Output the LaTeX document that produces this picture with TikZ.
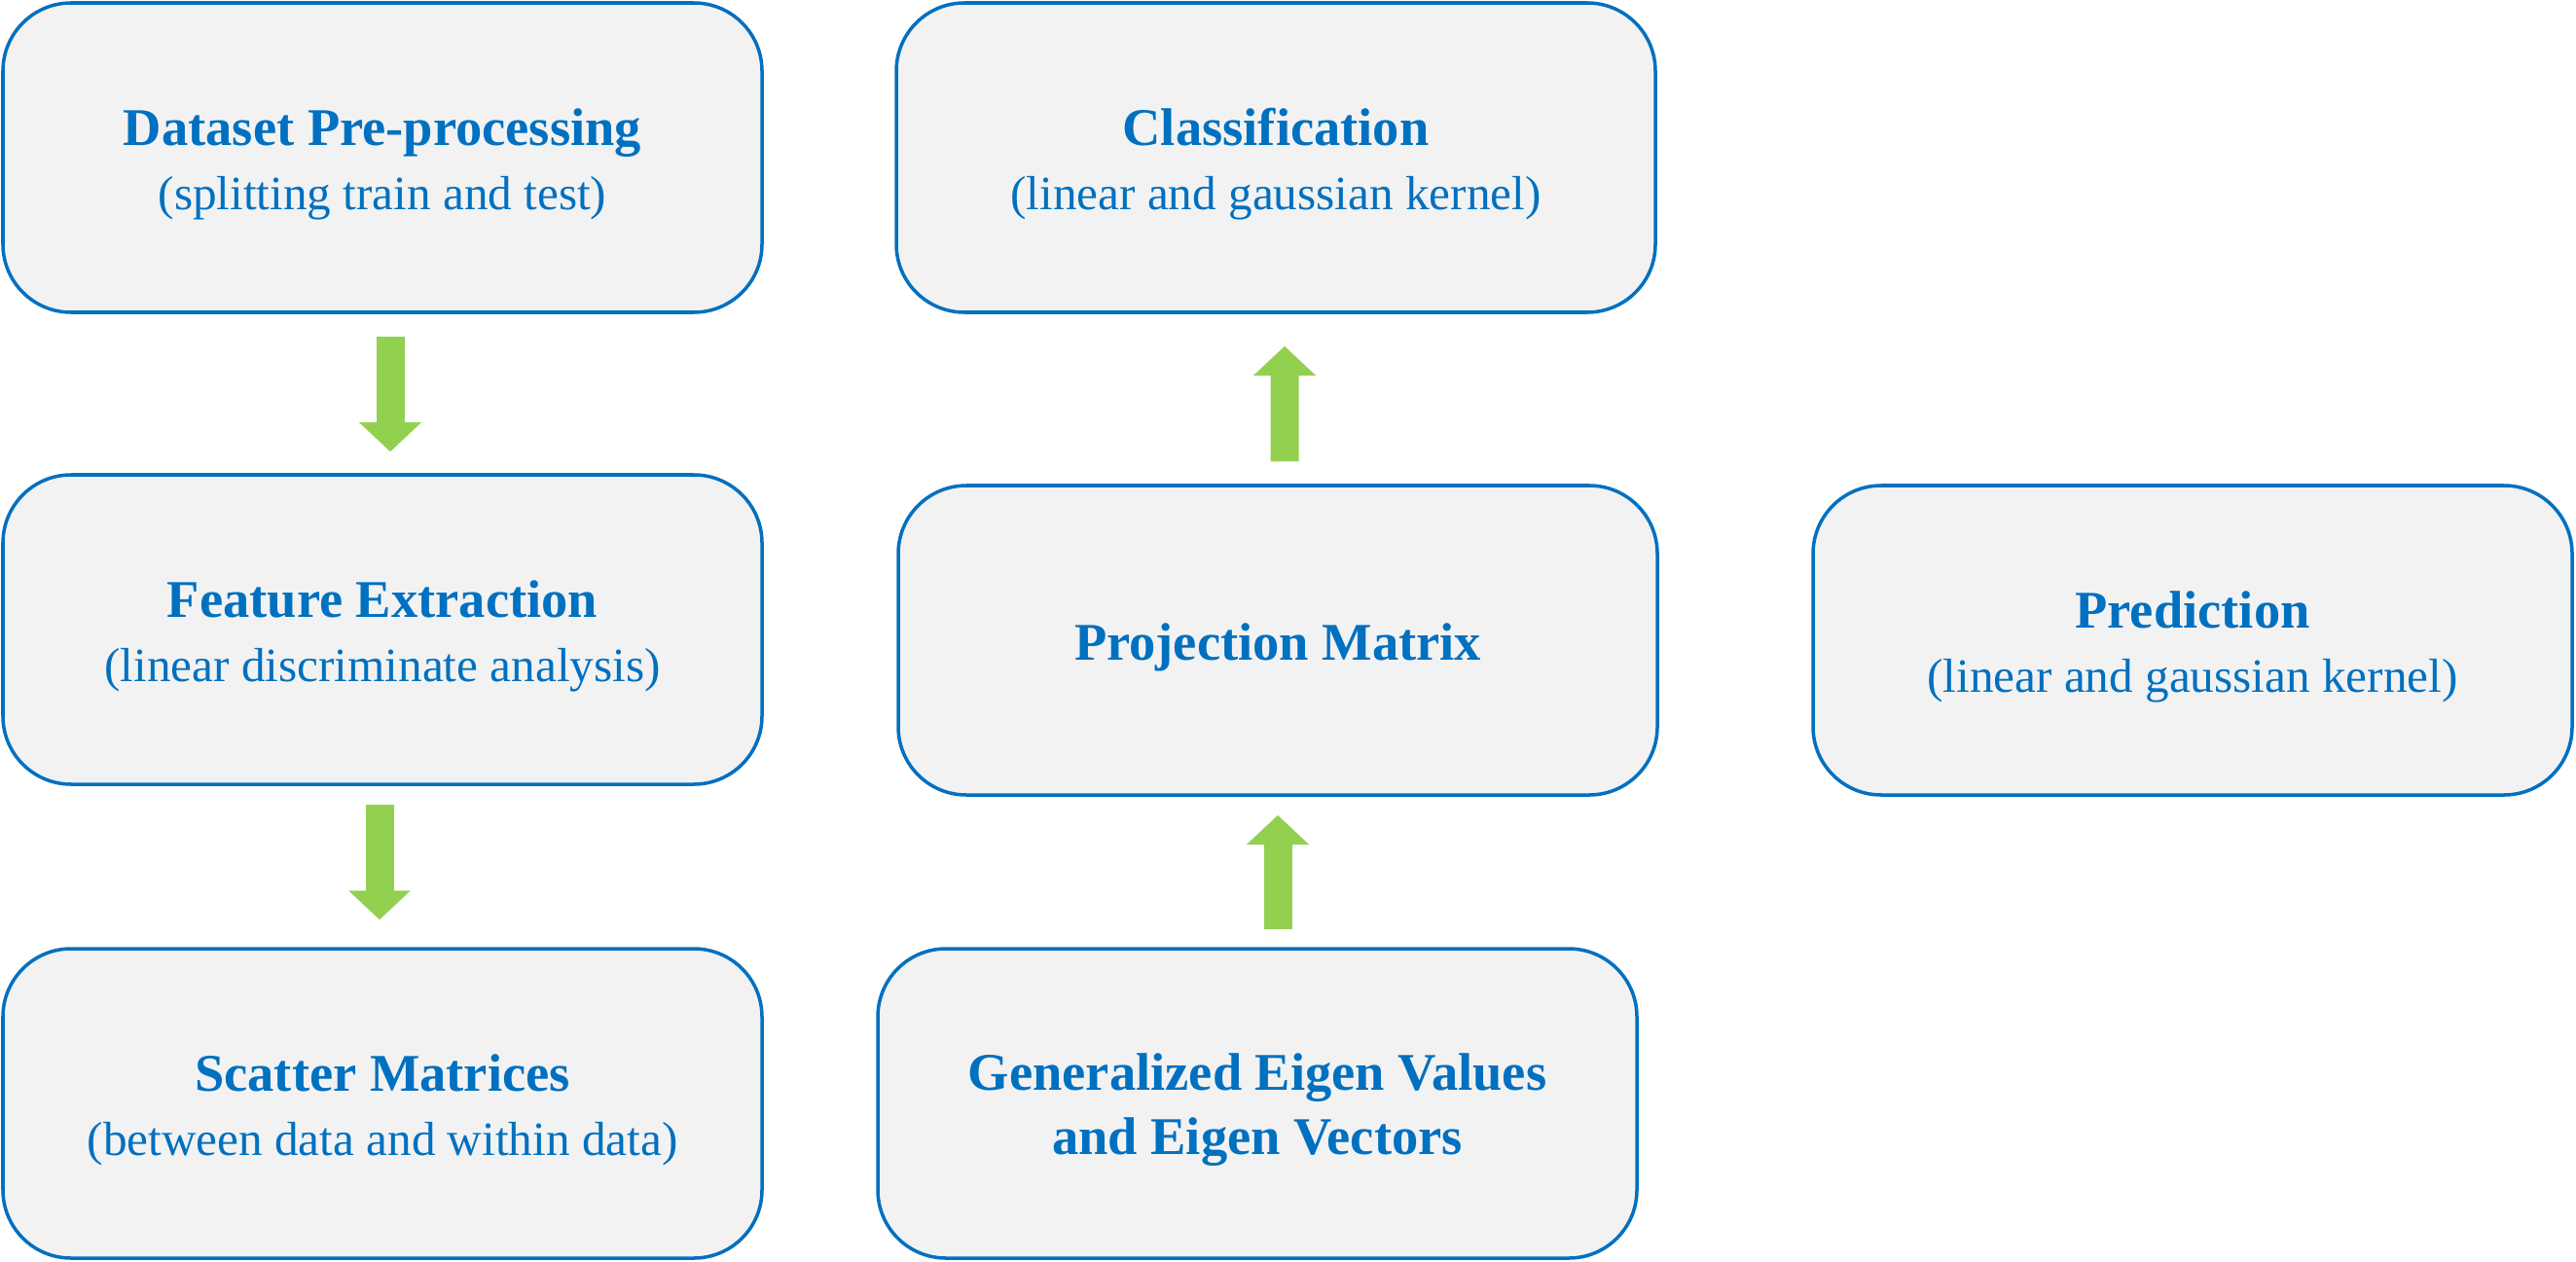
\documentclass[tikz,border=0pt]{standalone}
\usepackage{fontspec}
\setmainfont{Liberation Serif}
\usetikzlibrary{arrows.meta}

\definecolor{boxblue}{HTML}{0070C0}
\definecolor{boxgray}{HTML}{F2F2F2}
\definecolor{arrowgreen}{HTML}{92D050}
\newcommand{\stagetitle}[1]{{\fontsize{15.5}{18.7}\selectfont\bfseries\rule{0pt}{14.7pt}#1}}

\begin{document}
\begin{tikzpicture}[
    stage/.style={draw=boxblue, fill=boxgray, line width=1pt, rounded corners=0.7cm,
      minimum width=7.8cm, minimum height=3.18cm, align=center, text=boxblue,
      font=\fontsize{14}{18.7}\selectfont},
    flow/.style={arrowgreen, line width=0.29cm, -{Triangle[width=0.62cm,length=0.30cm]}}
  ]
    \useasboundingbox (0,0) rectangle (26.47,-12.96);

    \node[stage] (prep) at (3.93,-1.62) {\stagetitle{Dataset Pre-processing}\\(splitting train and test)};
    \node[stage] (feat) at (3.93,-6.47) {\stagetitle{Feature Extraction}\\(linear discriminate analysis)};
    \node[stage] (scat) at (3.93,-11.34) {\stagetitle{Scatter Matrices}\\(between data and within data)};
    \node[stage] (clas) at (13.11,-1.62) {\stagetitle{Classification}\\(linear and gaussian kernel)};
    \node[stage] (proj) at (13.13,-6.58) {\stagetitle{Projection Matrix}};
    \node[stage] (eig) at (12.92,-11.34) {\stagetitle{Generalized Eigen Values}\\\stagetitle{and Eigen Vectors}};
    \node[stage] (pred) at (22.53,-6.58) {\stagetitle{Prediction}\\(linear and gaussian kernel)};

    % pfeile
    \draw[flow] ([xshift=0.08cm,yshift=-0.23cm]prep.south) -- ([xshift=0.08cm,yshift=0.22cm]feat.north);
    \draw[flow] ([xshift=-0.03cm,yshift=-0.19cm]feat.south) -- ([xshift=-0.03cm,yshift=0.28cm]scat.north);
    \draw[flow] ([xshift=0.21cm,yshift=0.18cm]eig.north) -- ([yshift=-0.19cm]proj.south);
    \draw[flow] ([xshift=0.07cm,yshift=0.23cm]proj.north) -- ([xshift=0.09cm,yshift=-0.33cm]clas.south);
\end{tikzpicture}
\end{document}
